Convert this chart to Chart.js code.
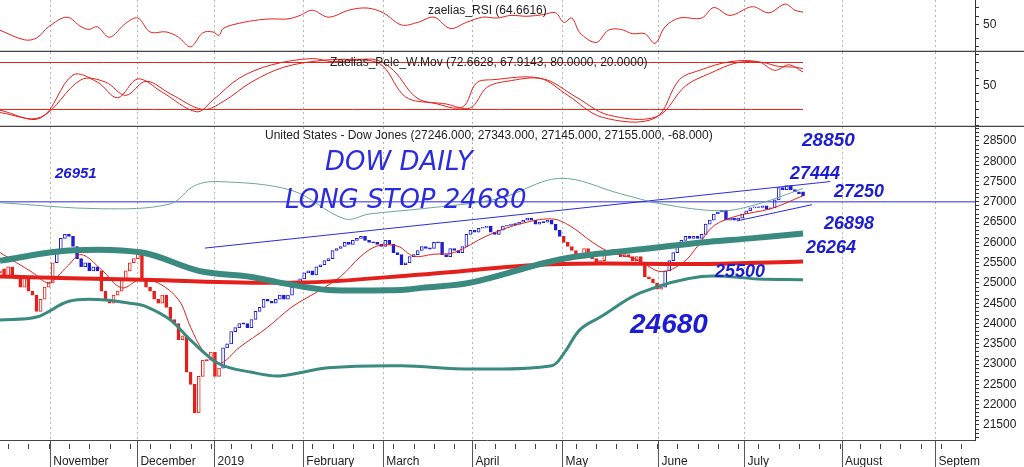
<!DOCTYPE html>
<html>
<head>
<script src="https://cdn.jsdelivr.net/npm/chart.js"></script>
<style>
  body { margin:0; background:#fff; width:1024px; height:467px; overflow:hidden; position:relative; }
  .pane { position:absolute; left:0; width:1024px; }
</style>
</head>
<body>
<div class="pane" style="top:0;height:52px"><canvas id="rsi"></canvas></div>
<div class="pane" style="top:52px;height:75px"><canvas id="osc"></canvas></div>
<div class="pane" style="top:127px;height:340px"><canvas id="main"></canvas></div>
<script>
// day index 0 = first candle, 198 = Jul 23 2019
var monthDays = [12.3, 33.8, 52.8, 74.7, 94.4, 116.4, 138.6, 162.3, 183.5, 207.5, 230.6];
var monthNames = ["November","December","2019","February","March","April","May","June","July","August","Septem"];

var closes = [25300,25150,25400,25200,25100,24900,25150,24800,24700,24300,
  24600,24900,25000,25500,25800,26100,26200,26150,25900,25600,
  25400,25500,25300,25400,25300,24800,24600,24500,24700,24800,
  25100,25300,25500,25600,25800,25100,24900,24800,24600,24500,
  24700,24400,24100,24000,23600,23700,22800,22500,21800,22700,
  23100,23100,23300,22700,22900,23400,23500,23800,23900,24000,
  24000,23900,24100,24300,24400,24600,24550,24500,24600,24700,
  24600,24700,24900,24950,25100,25250,25300,25200,25400,25450,
  25550,25600,25800,25850,25900,26000,25950,26050,26100,26150,
  26050,26000,26000,25950,25900,26050,25950,25750,25700,25450,
  25500,25650,25700,25800,25900,25850,25850,26000,26000,25700,
  25650,25850,25800,25750,25900,26200,26300,26250,26350,26370,
  26400,26250,26200,26300,26400,26420,26450,26450,26500,26550,
  26600,26550,26450,26500,26500,26550,26450,26300,26150,26000,
  25900,25800,25600,25700,25850,25750,25600,25450,25550,25750,
  25800,25800,25750,25650,25700,25650,25550,25650,25450,25150,
  25100,25000,24850,24900,25300,25550,25750,25900,26050,26150,
  26100,26150,26100,26200,26450,26550,26700,26750,26800,26550,
  26600,26550,26600,26700,26780,26850,26880,26860,26900,26820,
  26850,27050,27350,27300,27400,27300,27250,27200,27155];
var opens = [25250,25350,25150,25400,25200,25100,24900,25150,24800,24700,
  24300,24600,24900,25000,25500,25800,26100,26200,26150,25900,
  25600,25400,25500,25300,25400,25300,24800,24600,24500,24700,
  24800,25100,25300,25500,25600,25800,25100,24900,24800,24600,
  24500,24700,24400,24100,24000,23600,23700,22800,22500,21800,
  22700,23100,23100,23300,22700,22900,23400,23500,23800,23900,
  24000,24000,23900,24100,24300,24400,24600,24550,24500,24600,
  24700,24600,24700,24900,24950,25100,25250,25300,25200,25400,
  25450,25550,25600,25800,25850,25900,26000,25950,26050,26100,
  26150,26050,26000,26000,25950,25900,26050,25950,25750,25700,
  25450,25500,25650,25700,25800,25900,25850,25850,26000,26000,
  25700,25650,25850,25800,25750,25900,26200,26300,26250,26350,
  26370,26400,26250,26200,26300,26400,26420,26450,26450,26500,
  26550,26600,26550,26450,26500,26500,26550,26450,26300,26150,
  26000,25900,25800,25600,25700,25850,25750,25600,25450,25550,
  25750,25800,25800,25750,25650,25700,25650,25550,25650,25450,
  25150,25100,25000,24850,24900,25300,25550,25750,25900,26050,
  26150,26100,26150,26100,26200,26450,26550,26700,26750,26800,
  26550,26600,26550,26600,26700,26780,26850,26880,26860,26900,
  26820,26850,27050,27350,27300,27400,27300,27250,27246];
// candle colour segments [fromDay, toDay]
var redRanges = [[0,13],[25,54],[139,163]];

var upperThick = [[0,25550],[17,25800],[35,25750],[49,25300],[62,25150],[69,25010],[81,24830],[99,24830],[104,24880],[116,25010],[138,25580],[158,25830],[173,26000],[185,26100],[198,26220]];
var lowerBand = [[0,24090],[9,24160],[17,24550],[25,24590],[32,24500],[36,24420],[42,24090],[47,23590],[54,23010],[62,22800],[69,22710],[81,22910],[99,22960],[116,22880],[136,22960],[139,23260],[143,23850],[148,24160],[158,24760],[173,25160],[187,25100],[198,25080]];
var thinTeal = [[0,26980],[25,26830],[42,26950],[48,27400],[54,27500],[72,27280],[85,26580],[91,26700],[104,26830],[123,27080],[138,27580],[153,27200],[163,26950],[178,26780],[187,26950],[198,27330]];
var redThick = [[0,25160],[35,25080],[74,25010],[104,25210],[136,25460],[173,25470],[198,25530]];
var redThin = [[0,25750],[8,25260],[12,25010],[16.5,25400],[20,25700],[25,25330],[30,24880],[34.5,25080],[39,25000],[44,24590],[47,23910],[50,23340],[54,23010],[59,23410],[66,23910],[72,24410],[79,24830],[84,25160],[89,25660],[93,25910],[98,25910],[102,25660],[107,25710],[112,25750],[120,26160],[128,26450],[136,26580],[140.5,26410],[146,26010],[150,25780],[157,25580],[163,25280],[168.5,25510],[172,25910],[176,26410],[182,26660],[190,26830],[198,27150]];
var trendUpper = [[50.5,25860],[204.7,27500]];
var trendLower = [[181.7,26530],[200.2,26930]];
var stopLevel = [[0,27000],[240.4,27000]];

var rsiVals = [[0,44],[6,33],[9,35],[12,48],[16.5,59],[20,48],[22,45],[24,48],[27,36],[31,52],[34,58],[37,42],[41,42],[44,36],[47,25],[50,41],[52.5,42],[54,38],[55,46],[59,52],[64,56],[67,57],[71,57],[74,61],[77,67],[81,59],[86,67],[90.5,69.5],[94.5,64],[99,50],[103,53],[107,59],[111,46],[115,53],[119,59],[122.5,58],[126,61],[130,60],[134,62],[137,64],[139,53],[141,58],[143,41],[147,30],[150,44],[153,45],[156,40],[159,40],[161.5,29],[164,48],[167.5,58],[173,58],[176,70],[180,61],[185.5,71],[189.6,64],[193.6,74],[196,67],[198,64.7]];
var oscFast = [[0,19],[10,9],[18,64],[24,55],[29,35],[34,59],[40,42],[48.5,17],[52.5,32],[59,60],[67,77],[77,85],[82,81],[90.5,83],[94.5,75],[100,36],[107,28],[114,23],[117.5,54],[121.5,58],[133,60],[140,38],[148.5,10],[161.5,9],[167.5,58],[172.5,70],[180,81],[187,81],[191,70],[194.5,77],[198,68]];
var oscSlow = [[0,16],[10,10],[20,58],[26,55],[31,38],[36,56],[42,40],[50,20],[55,30],[62,55],[70,74],[80,83],[88,84],[93,83],[97,70],[103,34],[110,27],[116,22],[120,48],[125,56],[134,59],[142,36],[150,13],[162,11],[169,50],[175,66],[182,80],[188,80],[192,75],[196,74],[198,72]];
var oscLevels = [80, 20];

var X_MAX = 240.4;
var BLUE = '#1c1cd0', RED = '#e3201b', TEAL = '#3b8a80';

function pts(a) { return a.map(function (p) { return {x: p[0], y: p[1]}; }); }
function isRed(i) { return redRanges.some(function (r) { return i >= r[0] && i <= r[1]; }); }

function xScale(showLabels) {
  return {
    type: 'linear', min: 0, max: X_MAX, offset: false,
    afterBuildTicks: function (s) { s.ticks = monthDays.map(function (d) { return {value: d}; }); },
    afterFit: function (s) { s.height = showLabels ? 27 : 0; s.paddingLeft = 0; s.paddingRight = 0; },
    grid: { display: false },
    border: { display: false },
    ticks: { display: showLabels, align: 'start', padding: 6, color: '#222', maxRotation: 0, autoSkip: false,
      font: { family: 'Liberation Sans', size: 12 },
      callback: function (v, i) { return ' ' + monthNames[i]; } }
  };
}
function yScale(min, max, tickVals, labelEvery) {
  return {
    position: 'right', min: min, max: max,
    afterFit: function (s) { s.width = 49; s.paddingTop = 0; s.paddingBottom = 0; },
    afterBuildTicks: function (s) { s.ticks = tickVals.map(function (v) { return {value: v}; }); },
    grid: { drawOnChartArea: false, color: '#333', tickLength: 4 },
    border: { display: true, color: '#333' },
    ticks: { color: '#222', padding: 4, autoSkip: false, font: { family: 'Liberation Sans', size: 12 },
      callback: function (v) { return labelEvery(v) ? v : ''; } }
  };
}
var lineDs = function (data, color, w) {
  return { type: 'line', data: pts(data), borderColor: color, borderWidth: w, pointRadius: 0, tension: 0.35, fill: false };
};

// dotted month separators, drawn under the data
var monthLines = { id: 'monthLines', beforeDatasetsDraw: function (c) {
  var xs = c.scales.x, ctx = c.ctx, a = c.chartArea;
  ctx.save(); ctx.strokeStyle = '#b5b5b5'; ctx.lineWidth = 1; ctx.setLineDash([2, 3]);
  monthDays.forEach(function (d) {
    var px = Math.round(xs.getPixelForValue(d)) + 0.5;
    ctx.beginPath(); ctx.moveTo(px, a.top); ctx.lineTo(px, a.bottom); ctx.stroke();
  });
  ctx.setLineDash([]); ctx.strokeStyle = '#555';
  if (c.height > 200) monthDays.forEach(function (d) {
    var px = Math.round(xs.getPixelForValue(d)) + 0.5;
    ctx.beginPath(); ctx.moveTo(px, a.bottom); ctx.lineTo(px, c.height); ctx.stroke();
  });
  ctx.restore();
} };

var textPlugin = function (items, frame) {
  return { id: 'txt', afterDraw: function (c) {
    var ctx = c.ctx; ctx.save();
    if (frame) { ctx.strokeStyle = '#444'; ctx.lineWidth = 1.5; ctx.beginPath(); ctx.moveTo(0, c.height - 0.5); ctx.lineTo(1024, c.height - 0.5); ctx.stroke(); }
    items.forEach(function (t) {
      ctx.font = t.f; ctx.fillStyle = t.c || '#222'; ctx.textAlign = t.a || 'left'; ctx.textBaseline = 'middle';
      if (t.w) ctx.fillText(t.s, t.x, t.y, t.w); else ctx.fillText(t.s, t.x, t.y);
    });
    ctx.restore();
  }};
};

var common = { responsive: true, maintainAspectRatio: false, animation: false, layout: { padding: 0 },
  plugins: { legend: { display: false }, tooltip: { enabled: false } } };

// RSI pane
new Chart(document.getElementById('rsi'), {
  type: 'line',
  data: { datasets: [lineDs(rsiVals, RED, 1)] },
  options: Object.assign({}, common, { scales: { x: xScale(false), y: yScale(19, 78.7, [25,35,50,60,70], function (v) { return v === 50; }) } }),
  plugins: [monthLines, textPlugin([{ s: 'zaelias_RSI (64.6616)', x: 428, y: 11, f: '12px "Liberation Sans"' }], true)]
});

// oscillator pane
var oscDs = [lineDs(oscFast, RED, 1), lineDs(oscSlow, RED, 1)];
oscLevels.forEach(function (l) { oscDs.push(lineDs([[0, l], [198, l]], RED, 1)); });
new Chart(document.getElementById('osc'), {
  type: 'line',
  data: { datasets: oscDs },
  options: Object.assign({}, common, { scales: { x: xScale(false), y: yScale(-2.4, 93.4, [0,10,20,30,40,50,60,70,80,90], function (v) { return v === 50; }) } }),
  plugins: [monthLines, textPlugin([{ s: 'Zaelias_Pele_W.Mov (72.6628, 67.9143, 80.0000, 20.0000)', x: 330, y: 11, f: '12px "Liberation Sans"' }], true)]
});

// main pane
var bodies = closes.map(function (c, i) {
  var o = opens[i];
  return { x: i, y: o === c ? [c - 15, c + 15] : [o, c] };
});
var edge = closes.map(function (c, i) { return isRed(i) ? RED : BLUE; });
var fillc = closes.map(function (c, i) { return c > opens[i] ? '#fff' : (isRed(i) ? RED : BLUE); });
var priceTicks = []; for (var p = 21200; p <= 28800; p += 100) priceTicks.push(p);

var hand = 'italic 200 26px "DejaVu Sans"';
new Chart(document.getElementById('main'), {
  type: 'bar',
  data: { datasets: [
    lineDs(thinTeal, '#6aa69c', 1),
    lineDs(upperThick, TEAL, 6),
    lineDs(lowerBand, TEAL, 3),
    lineDs(redThick, RED, 4),
    lineDs(redThin, RED, 1),
    Object.assign(lineDs(trendUpper, '#2a2ae0', 1), { tension: 0 }),
    Object.assign(lineDs(trendLower, '#2a2ae0', 1), { tension: 0 }),
    Object.assign(lineDs(stopLevel, '#2a2ae0', 1), { tension: 0 }),
    { type: 'bar', data: bodies, backgroundColor: fillc, borderColor: edge, borderWidth: 1, barThickness: 3, borderSkipped: false }
  ] },
  options: Object.assign({}, common, { scales: {
    x: xScale(true),
    y: yScale(21130, 28845, priceTicks, function (v) { return v % 500 === 0; })
  } }),
  plugins: [monthLines, textPlugin([
    { s: 'United States - Dow Jones (27246.000, 27343.000, 27145.000, 27155.000, -68.000)', x: 265, y: 9, f: '12px "Liberation Sans"' },
    { s: 'DOW DAILY', x: 325, y: 36, f: hand, c: '#2b2be0', w: 162 },
    { s: 'LONG STOP 24680', x: 285, y: 74, f: hand, c: '#2b2be0', w: 256 },
    { s: '26951', x: 55, y: 47, f: 'italic bold 15px "Liberation Sans"', c: BLUE },
    { s: '28850', x: 802, y: 14, f: 'italic bold 19px "Liberation Sans"', c: BLUE },
    { s: '27444', x: 790, y: 47, f: 'italic bold 18px "Liberation Sans"', c: BLUE },
    { s: '27250', x: 834, y: 65, f: 'italic bold 18px "Liberation Sans"', c: BLUE },
    { s: '26898', x: 824, y: 97, f: 'italic bold 18px "Liberation Sans"', c: BLUE },
    { s: '26264', x: 806, y: 121, f: 'italic bold 18px "Liberation Sans"', c: BLUE },
    { s: '25500', x: 715, y: 145, f: 'italic bold 18px "Liberation Sans"', c: BLUE },
    { s: '24680', x: 630, y: 198, f: 'italic bold 28px "Liberation Sans"', c: BLUE }
  ], false), { id: 'weekTicks', afterDraw: function (c) {
    var xs = c.scales.x, ctx = c.ctx, top = c.chartArea.bottom;
    ctx.save(); ctx.strokeStyle = '#444'; ctx.lineWidth = 1;
    ctx.beginPath(); ctx.moveTo(0, top + 0.5); ctx.lineTo(975, top + 0.5); ctx.stroke();
    for (var d = 2; d < X_MAX; d += 5) {
      var px = Math.round(xs.getPixelForValue(d)) + 0.5;
      ctx.beginPath(); ctx.moveTo(px, top + 4); ctx.lineTo(px, top + 9); ctx.stroke();
    }
    ctx.restore();
  } }]
});
</script>
</body>
</html>
